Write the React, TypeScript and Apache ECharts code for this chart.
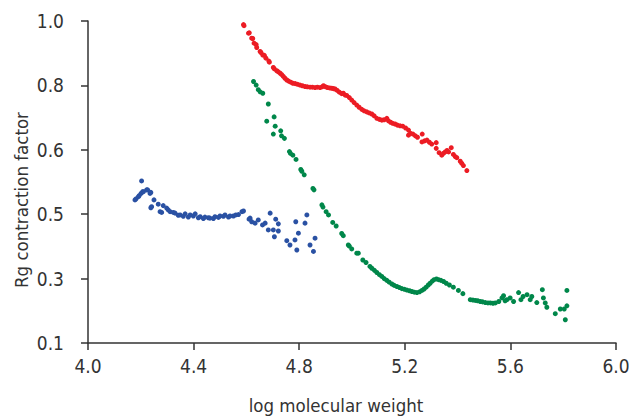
import React, { useEffect, useRef } from "react";
import * as echarts from "echarts";

// x: log molecular weight, y: Rg contraction factor
const redX = [4.589, 4.591, 4.608, 4.611, 4.620, 4.624, 4.629, 4.637, 4.639, 4.652, 4.655, 4.662, 4.668, 4.674, 4.685, 4.687, 4.702, 4.706, 4.715, 4.721, 4.728, 4.734, 4.740, 4.746, 4.753, 4.760, 4.768, 4.776, 4.785, 4.794, 4.803, 4.812, 4.822, 4.831, 4.841, 4.850, 4.860, 4.869, 4.879, 4.887, 4.892, 4.900, 4.907, 4.915, 4.923, 4.930, 4.936, 4.944, 4.952, 4.961, 4.967, 4.974, 4.980, 4.990, 4.999, 5.008, 5.018, 5.027, 5.037, 5.046, 5.056, 5.065, 5.075, 5.084, 5.094, 5.104, 5.113, 5.122, 5.132, 5.138, 5.146, 5.154, 5.163, 5.172, 5.182, 5.192, 5.203, 5.214, 5.214, 5.222, 5.231, 5.240, 5.248, 5.266, 5.265, 5.275, 5.284, 5.293, 5.302, 5.319, 5.319, 5.330, 5.340, 5.346, 5.353, 5.360, 5.366, 5.376, 5.384, 5.391, 5.397, 5.410, 5.416, 5.422, 5.435];
const redY = [0.990, 0.987, 0.966, 0.967, 0.952, 0.951, 0.938, 0.934, 0.926, 0.915, 0.912, 0.905, 0.904, 0.896, 0.888, 0.885, 0.870, 0.866, 0.861, 0.858, 0.854, 0.850, 0.845, 0.840, 0.835, 0.832, 0.829, 0.826, 0.825, 0.823, 0.821, 0.819, 0.817, 0.816, 0.815, 0.815, 0.814, 0.815, 0.814, 0.816, 0.819, 0.816, 0.814, 0.813, 0.812, 0.811, 0.810, 0.806, 0.801, 0.797, 0.798, 0.793, 0.792, 0.786, 0.779, 0.772, 0.765, 0.759, 0.753, 0.749, 0.746, 0.743, 0.740, 0.735, 0.728, 0.725, 0.723, 0.724, 0.728, 0.721, 0.717, 0.714, 0.712, 0.709, 0.707, 0.706, 0.701, 0.695, 0.681, 0.686, 0.684, 0.679, 0.675, 0.684, 0.662, 0.665, 0.667, 0.661, 0.656, 0.660, 0.644, 0.632, 0.625, 0.630, 0.634, 0.638, 0.634, 0.646, 0.627, 0.621, 0.618, 0.608, 0.602, 0.596, 0.582];

const greenX = [4.627, 4.637, 4.645, 4.652, 4.662, 4.683, 4.705, 4.677, 4.709, 4.730, 4.702, 4.733, 4.744, 4.763, 4.767, 4.776, 4.788, 4.806, 4.810, 4.819, 4.852, 4.856, 4.886, 4.890, 4.902, 4.911, 4.927, 4.940, 4.961, 4.967, 4.986, 4.990, 4.999, 5.018, 5.024, 5.041, 5.053, 5.068, 5.075, 5.085, 5.094, 5.104, 5.113, 5.122, 5.132, 5.141, 5.151, 5.160, 5.170, 5.180, 5.189, 5.199, 5.208, 5.218, 5.227, 5.236, 5.246, 5.256, 5.265, 5.273, 5.281, 5.289, 5.296, 5.304, 5.311, 5.320, 5.328, 5.337, 5.347, 5.357, 5.369, 5.384, 5.403, 5.420, 5.448, 5.458, 5.467, 5.476, 5.486, 5.495, 5.505, 5.515, 5.524, 5.534, 5.543, 5.556, 5.568, 5.574, 5.580, 5.587, 5.599, 5.612, 5.631, 5.640, 5.648, 5.663, 5.675, 5.681, 5.700, 5.721, 5.725, 5.732, 5.738, 5.770, 5.789, 5.804, 5.808, 5.814, 5.814];
const greenY = [0.831, 0.821, 0.808, 0.802, 0.798, 0.768, 0.732, 0.720, 0.706, 0.693, 0.684, 0.679, 0.672, 0.635, 0.630, 0.625, 0.613, 0.585, 0.580, 0.570, 0.532, 0.528, 0.486, 0.480, 0.467, 0.458, 0.437, 0.427, 0.406, 0.400, 0.374, 0.371, 0.363, 0.351, 0.351, 0.332, 0.325, 0.314, 0.309, 0.303, 0.297, 0.291, 0.286, 0.280, 0.275, 0.270, 0.265, 0.261, 0.258, 0.255, 0.252, 0.250, 0.248, 0.246, 0.244, 0.242, 0.241, 0.243, 0.247, 0.251, 0.256, 0.262, 0.267, 0.273, 0.277, 0.279, 0.277, 0.275, 0.272, 0.267, 0.262, 0.256, 0.247, 0.238, 0.221, 0.220, 0.219, 0.218, 0.216, 0.215, 0.213, 0.212, 0.212, 0.211, 0.212, 0.216, 0.226, 0.232, 0.218, 0.221, 0.226, 0.216, 0.241, 0.221, 0.230, 0.235, 0.221, 0.230, 0.213, 0.249, 0.226, 0.212, 0.200, 0.182, 0.195, 0.195, 0.165, 0.204, 0.247];

const blueX = [4.178, 4.182, 4.191, 4.194, 4.201, 4.203, 4.207, 4.210, 4.222, 4.226, 4.235, 4.238, 4.241, 4.250, 4.238, 4.266, 4.273, 4.279, 4.285, 4.298, 4.304, 4.311, 4.323, 4.330, 4.342, 4.349, 4.361, 4.368, 4.380, 4.387, 4.399, 4.406, 4.418, 4.425, 4.437, 4.443, 4.456, 4.462, 4.475, 4.481, 4.494, 4.500, 4.513, 4.519, 4.532, 4.538, 4.551, 4.560, 4.570, 4.583, 4.589, 4.610, 4.614, 4.620, 4.633, 4.645, 4.661, 4.671, 4.690, 4.683, 4.702, 4.711, 4.721, 4.721, 4.706, 4.753, 4.765, 4.784, 4.787, 4.791, 4.797, 4.822, 4.829, 4.841, 4.854, 4.860];
const blueY = [0.500, 0.503, 0.509, 0.512, 0.518, 0.553, 0.523, 0.523, 0.528, 0.528, 0.518, 0.521, 0.481, 0.500, 0.478, 0.488, 0.467, 0.465, 0.484, 0.477, 0.472, 0.467, 0.465, 0.463, 0.457, 0.458, 0.454, 0.461, 0.452, 0.458, 0.455, 0.461, 0.450, 0.453, 0.448, 0.452, 0.450, 0.449, 0.448, 0.453, 0.451, 0.455, 0.454, 0.458, 0.452, 0.455, 0.455, 0.458, 0.459, 0.467, 0.469, 0.446, 0.449, 0.439, 0.435, 0.444, 0.430, 0.435, 0.463, 0.416, 0.416, 0.446, 0.413, 0.433, 0.397, 0.386, 0.374, 0.388, 0.439, 0.360, 0.407, 0.435, 0.458, 0.374, 0.356, 0.393];

const yTickMin = 0.1;
const yTickStep = 0.18;
const xTicks = [4.0, 6.0];

const FONT = "'Liberation Sans Narrow', 'DejaVu Sans Condensed', 'Roboto Condensed', 'Liberation Sans', sans-serif";
const TEXT = "#333333";

function pts(xs: number[], ys: number[]) {
  return xs.map((x, i) => [x, (ys[i] - yTickMin) / yTickStep]);
}

export default function App() {
  const ref = useRef<HTMLDivElement>(null);
  useEffect(() => {
    document.body.style.margin = "0";
    const chart = echarts.init(ref.current!, null, { renderer: "svg" });
    const axisCommon = {
      axisLine: { show: true, lineStyle: { color: TEXT, width: 1.5 } },
      axisTick: { show: true, length: 7, lineStyle: { color: TEXT, width: 1.5 } },
      splitLine: { show: false },
    };
    chart.setOption({
      animation: false,
      backgroundColor: "#ffffff",
      grid: { left: 88, right: 13, top: 21, bottom: 73, outerBoundsMode: "none", containLabel: false },
      xAxis: {
        type: "value",
        min: xTicks[0],
        max: xTicks[1],
        interval: 0.4,
        ...axisCommon,
        axisLabel: {
          color: TEXT,
          fontSize: 19,
          fontFamily: FONT,
          margin: 13,
          formatter: (v: number) => v.toFixed(1),
        },
      },
      yAxis: {
        type: "value",
        min: 0,
        max: 5,
        interval: 1,
        ...axisCommon,
        axisLabel: {
          color: TEXT,
          fontSize: 19,
          fontFamily: FONT,
          margin: 24,
          formatter: (v: number) => (yTickMin + v * yTickStep).toFixed(1),
        },
      },
      graphic: [
        {
          type: "text",
          x: 336,
          y: 405,
          style: { text: "log molecular weight", fill: TEXT, font: `18.5px ${FONT}`, textAlign: "center", textVerticalAlign: "middle" },
        },
        {
          type: "text",
          x: 21,
          y: 200,
          rotation: Math.PI / 2,
          style: { text: "Rg contraction factor", fill: TEXT, font: `18.5px ${FONT}`, textAlign: "center", textVerticalAlign: "middle" },
        },
      ],
      series: [
        { type: "scatter", data: pts(redX, redY), symbolSize: 5, itemStyle: { color: "#ec1c24", opacity: 1 } },
        { type: "scatter", data: pts(greenX, greenY), symbolSize: 5, itemStyle: { color: "#00874a", opacity: 1 } },
        { type: "scatter", data: pts(blueX, blueY), symbolSize: 5, itemStyle: { color: "#2a51a3", opacity: 1 } },
      ],
    });
    return () => chart.dispose();
  }, []);
  return <div ref={ref} style={{ width: 629, height: 416 }} />;
}
